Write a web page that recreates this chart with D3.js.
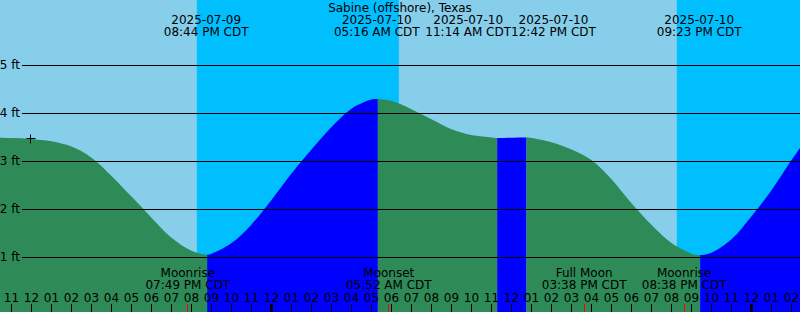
<!DOCTYPE html>
<html>
<head>
<meta charset="utf-8">
<title>Sabine (offshore), Texas</title>
<script src="https://d3js.org/d3.v7.min.js"></script>
<style>
  body { margin: 0; }
  svg { display: block; font-family: "DejaVu Sans", sans-serif; font-size: 12px; }
</style>
</head>
<body>
<svg id="tidechart" width="800" height="312"></svg>
<script>
const stationName = 'Sabine (offshore), Texas';

// predicted water level, one value per hour (feet)
const sampleTimes = [
  '2025-07-09 10:00', '2025-07-09 11:00', '2025-07-09 12:00', '2025-07-09 13:00',
  '2025-07-09 14:00', '2025-07-09 15:00', '2025-07-09 16:00', '2025-07-09 17:00',
  '2025-07-09 18:00', '2025-07-09 19:00', '2025-07-09 20:00', '2025-07-09 21:00',
  '2025-07-09 22:00', '2025-07-09 23:00', '2025-07-10 00:00', '2025-07-10 01:00',
  '2025-07-10 02:00', '2025-07-10 03:00', '2025-07-10 04:00', '2025-07-10 05:00',
  '2025-07-10 06:00', '2025-07-10 07:00', '2025-07-10 08:00', '2025-07-10 09:00',
  '2025-07-10 10:00', '2025-07-10 11:00', '2025-07-10 12:00', '2025-07-10 13:00',
  '2025-07-10 14:00', '2025-07-10 15:00', '2025-07-10 16:00', '2025-07-10 17:00',
  '2025-07-10 18:00', '2025-07-10 19:00', '2025-07-10 20:00', '2025-07-10 21:00',
  '2025-07-10 22:00', '2025-07-10 23:00', '2025-07-11 00:00', '2025-07-11 01:00',
  '2025-07-11 02:00', '2025-07-11 03:00'
];
const sampleFeet = [
  3.50, 3.49, 3.47, 3.42,
  3.31, 3.08, 2.70, 2.27,
  1.83, 1.41, 1.14, 1.08,
  1.30, 1.69, 2.20, 2.75,
  3.25, 3.72, 4.10, 4.29,
  4.26, 4.09, 3.88, 3.67,
  3.55, 3.50, 3.495, 3.49,
  3.40, 3.25, 3.03, 2.63,
  2.13, 1.68, 1.30, 1.08,
  1.10, 1.38, 1.86, 2.40,
  3.03, 3.62
];

// highs and lows
const extremeTimes = ['2025-07-09 20:44', '2025-07-10 05:16', '2025-07-10 11:14', '2025-07-10 12:42', '2025-07-10 21:23'];
const extremeFeet = [1.06, 4.30, 3.49, 3.50, 1.05];
const extremeKinds = ['low', 'high', 'low', 'high', 'low'];

const moonTimes = ['2025-07-09 19:49', '2025-07-10 05:52', '2025-07-10 15:38', '2025-07-10 20:38'];
const moonEvents = ['Moonrise', 'Moonset', 'Full Moon', 'Moonrise'];

const nightStarts = ['2025-07-09 20:16', '2025-07-10 20:16'];
const nightEnds = ['2025-07-10 06:22', '2025-07-11 06:22'];

const nowTime = '2025-07-09 11:57';
const nowFeet = 3.47;

const feetTicks = [1, 2, 3, 4, 5];

const viewStart = '2025-07-09 10:25:30';
const viewEnd = '2025-07-11 02:25:30';

const svg = d3.select('svg#tidechart');
const width = +svg.attr('width');
const height = +svg.attr('height');

const parse = d3.timeParse('%Y-%m-%d %H:%M');
const parseSec = d3.timeParse('%Y-%m-%d %H:%M:%S');
const fmtDate = d3.timeFormat('%Y-%m-%d');
const fmtTime = d3.timeFormat('%I:%M %p');

const x = d3.scaleTime()
            .domain([parseSec(viewStart), parseSec(viewEnd)])
            .range([0, width]);
const y = d3.scaleLinear()
            .domain([0, 5])
            .range([305.5, 65.5]);

const extremes = extremeTimes.map((t, i) => ({ t: parse(t), v: extremeFeet[i], kind: extremeKinds[i] }));
const points = sampleTimes.map((t, i) => ({ t: parse(t), v: sampleFeet[i] }))
    .concat(extremes.map(d => ({ t: d.t, v: d.v })))
    .sort((a, b) => a.t - b.t);

// day / night background
svg.append('rect')
   .attr('width', width).attr('height', height)
   .attr('fill', '#87ceeb');
svg.append('g')
   .selectAll('rect')
   .data(nightStarts.map((s, i) => [parse(s), parse(nightEnds[i])]))
   .join('rect')
   .attr('x', d => x(d[0]))
   .attr('width', d => Math.min(width, x(d[1])) - x(d[0]))
   .attr('y', 0)
   .attr('height', height)
   .attr('fill', '#00bfff');

// water: blue while rising, green while falling
const area = d3.area()
               .x(d => x(d.t))
               .y0(height)
               .y1(d => y(d.v))
               .curve(d3.curveCatmullRom.alpha(0.5));

const bounds = [x.domain()[0]].concat(extremes.map(d => d.t), [x.domain()[1]]);
const segments = [];
for (let i = 0; i < bounds.length - 1; i++) {
    let rising;
    if (i < extremes.length) rising = extremes[i].kind === 'high';
    else rising = extremes[i - 1].kind === 'low';
    segments.push({ a: bounds[i], b: bounds[i + 1], rising: rising });
}

const defs = svg.append('defs');
segments.forEach((s, i) => {
    // the colour change sits about a pixel after the turn in the original
    const x0 = i === 0 ? 0 : x(s.a) + 1;
    const x1 = i === segments.length - 1 ? width : x(s.b) + 1;
    defs.append('clipPath').attr('id', 'seg' + i)
        .append('rect')
        .attr('x', x0).attr('y', 0)
        .attr('width', x1 - x0).attr('height', height);
    svg.append('path')
       .datum(points)
       .attr('clip-path', `url(#seg${i})`)
       .attr('fill', s.rising ? '#0000ff' : '#2e8b57')
       .attr('d', area);
});

// feet grid
const grid = svg.append('g');
grid.selectAll('line')
    .data(feetTicks)
    .join('line')
    .attr('x1', 22).attr('x2', width)
    .attr('y1', d => y(d)).attr('y2', d => y(d))
    .attr('stroke', 'black');
grid.selectAll('text')
    .data(feetTicks)
    .join('text')
    .attr('x', 20)
    .attr('y', d => y(d))
    .attr('dy', '0.33em')
    .attr('text-anchor', 'end')
    .text(d => d + ' ft');

// current level marker
const cx = Math.floor(x(parse(nowTime))) + 0.5;
const cy = Math.floor(y(nowFeet)) + 0.5;
svg.append('path')
   .attr('d', `M${cx - 4},${cy}H${cx + 5}M${cx},${cy - 4}V${cy + 5}`)
   .attr('stroke', 'black')
   .attr('fill', 'none');

// hour axis along the bottom
const hourAxis = svg.append('g')
    .attr('transform', `translate(0, ${height})`)
    .call(d3.axisTop(x)
            .ticks(d3.timeHour.every(1))
            .tickFormat(d3.timeFormat('%I'))
            .tickSize(8)
            .tickPadding(2)
            .offset(0));
hourAxis.select('.domain').remove();
hourAxis.attr('font-family', null).attr('font-size', null);
hourAxis.selectAll('.tick line')
        .attr('shape-rendering', 'crispEdges')
        .attr('stroke-width', d => d.getHours() === 0 ? 3 : 1);

// moon events
svg.append('g')
   .selectAll('line')
   .data(moonTimes.map(parse))
   .join('line')
   .attr('x1', d => x(d)).attr('x2', d => x(d))
   .attr('y1', height - 8).attr('y2', height)
   .attr('stroke', 'red')
   .attr('shape-rendering', 'crispEdges');
const moonLabels = svg.append('g')
    .attr('text-anchor', 'middle')
    .selectAll('g')
    .data(moonTimes.map((t, i) => ({ t: parse(t), name: moonEvents[i] })))
    .join('g');
moonLabels.append('text').attr('x', d => x(d.t)).attr('y', 277).text(d => d.name);
moonLabels.append('text').attr('x', d => x(d.t)).attr('y', 289).text(d => fmtTime(d.t) + ' CDT');

// tide event labels, nudged apart where they collide
const tideLabels = svg.append('g')
    .attr('text-anchor', 'middle')
    .selectAll('g')
    .data(extremes)
    .join('g');
const dateText = tideLabels.append('text').attr('y', 24).text(d => fmtDate(d.t));
const timeText = tideLabels.append('text').attr('y', 36).text(d => fmtTime(d.t) + ' CDT');

const spots = extremes.map((d, i) => ({
    c: x(d.t),
    w: Math.max(dateText.nodes()[i].getComputedTextLength(), timeText.nodes()[i].getComputedTextLength())
}));
for (let i = 1; i < spots.length; i++) {
    const gap = (spots[i].c - spots[i - 1].c) - (spots[i].w + spots[i - 1].w) / 2;
    if (gap < 0) {
        spots[i - 1].c += gap / 2;
        spots[i].c -= gap / 2;
    }
}
dateText.attr('x', (d, i) => spots[i].c);
timeText.attr('x', (d, i) => spots[i].c);

svg.append('text')
   .attr('x', width / 2)
   .attr('y', 12)
   .attr('text-anchor', 'middle')
   .text(stationName);
</script>
</body>
</html>
